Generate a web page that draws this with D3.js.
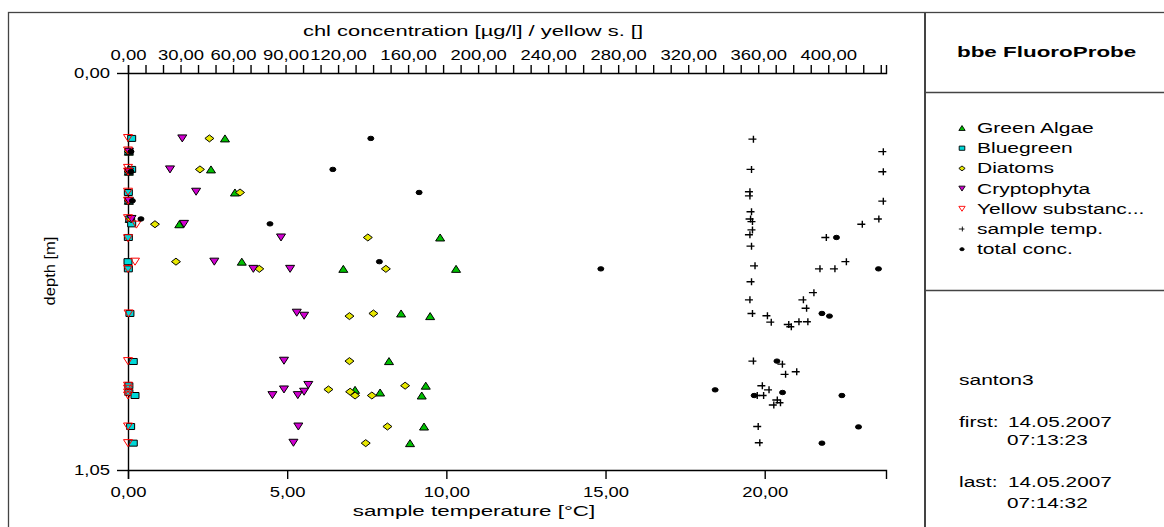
<!DOCTYPE html>
<html>
<head>
<meta charset="utf-8">
<script src="https://cdn.jsdelivr.net/npm/d3@7"></script>
<style>
	body { margin: 0; background: #fff; }
	svg { display: block; }
	text { font-family: "Liberation Sans", Arial, sans-serif; fill: #000; }
</style>
</head>
<body>
<div id="chart"></div>
<script>

// [depth m, chl µg/l]  (top axis)
var greenAlgae = [[0.173,55.4],[0.208,0.5],[0.255,47.4],[0.261,0.5],[0.316,61.1],[0.338,0.5],[0.386,1.0],[0.400,29.3],
	[0.435,178.3],[0.499,65.0],[0.518,123.0],[0.518,187.4],[0.636,156.0],[0.643,172.6],[0.762,149.1],[0.827,170.1],
	[0.838,129.7],[0.845,144.0],[0.853,167.8],[0.935,169.1],[0.979,161.1]];
var bluegreen = [[0.173,2.1],[0.208,0.5],[0.255,2.1],[0.261,0.5],[0.316,0.2],[0.338,0.5],[0.386,1.0],[0.399,2.1],
	[0.435,0.2],[0.499,0.0],[0.518,0.2],[0.636,1.1],[0.763,3.0],[0.827,0.5],[0.845,0.5],[0.853,4.0],[0.935,1.5],[0.979,3.0]];
var diatoms = [[0.173,46.5],[0.208,0.5],[0.255,41.1],[0.261,0.5],[0.316,64.0],[0.338,0.5],[0.386,1.5],[0.400,15.4],
	[0.435,137.0],[0.499,27.4],[0.518,75.0],[0.518,147.3],[0.636,140.2],[0.643,126.5],[0.762,126.5],[0.827,158.3],
	[0.837,114.5],[0.843,126.9],[0.853,129.7],[0.853,139.3],[0.935,148.2],[0.979,135.8]];
var cryptophyta = [[0.173,31.0],[0.208,0.5],[0.255,24.0],[0.261,0.5],[0.314,38.9],[0.338,0.5],[0.386,2.0],[0.399,32.0],
	[0.435,87.4],[0.499,49.3],[0.518,71.6],[0.518,92.6],[0.634,96.4],[0.642,100.6],[0.761,89.1],[0.825,103.0],
	[0.837,89.1],[0.843,100.6],[0.852,97.0],[0.852,82.5],[0.935,97.3],[0.978,94.5]];
var yellowSubst = [[0.172,0],[0.205,0],[0.251,0],[0.261,0],[0.314,0],[0.338,0],[0.384,0],[0.401,4.8],[0.437,0],
	[0.499,4.0],[0.518,0],[0.636,0.3],[0.762,0],[0.827,0],[0.835,0],[0.845,0],[0.853,0],[0.935,0],[0.979,0]];
var totalConc = [[0.173,138.7],[0.208,1.7],[0.255,117.0],[0.261,1.7],[0.316,166.3],[0.338,2.5],[0.386,7.4],[0.399,81.1],
	[0.435,404.7],[0.499,143.6],[0.518,270.1],[0.518,428.7],[0.636,396.4],[0.643,400.7],[0.762,370.7],[0.838,335.4],
	[0.853,357.7],[0.845,373.9],[0.853,407.8],[0.936,417.3],[0.979,396.4]];

// [depth m, °C]  (bottom axis)
var sampleTemp = [[0.175,19.63],[0.208,23.71],[0.255,19.57],[0.261,23.71],[0.314,19.52],[0.325,19.52],[0.339,23.71],
	[0.367,19.57],[0.386,19.54],[0.393,19.60],[0.386,23.57],[0.400,23.05],[0.415,19.60],[0.428,19.52],[0.435,21.92],
	[0.458,19.57],[0.499,22.55],[0.510,19.68],[0.518,21.72],[0.518,22.19],[0.552,19.57],[0.581,21.53],[0.600,19.52],
	[0.600,21.20],[0.622,21.30],[0.636,19.60],[0.642,20.07],[0.659,20.19],[0.665,20.74],[0.671,20.82],[0.658,21.06],
	[0.658,21.34],[0.762,19.63],[0.770,20.54],[0.797,20.64],[0.790,20.99],[0.827,19.91],[0.838,20.12],[0.853,19.75],
	[0.853,19.95],[0.878,20.27],[0.865,20.38],[0.872,20.48],[0.935,19.78],[0.978,19.83]];

var concTicks = d3.range(0, 431, 10);
var concLabels = [0, 30, 60, 90, 120, 160, 200, 240, 280, 320, 360, 400];
var tempTicks = [0, 5, 10, 15, 20];
var depthTicks = [0, 1.05];

var legendLabels = ["Green Algae", "Bluegreen", "Diatoms", "Cryptophyta", "Yellow substanc...", "sample temp.", "total conc."];
var infoName = "santon3";
var firstDate = "14.05.2007", firstTime = "07:13:23";
var lastDate = "14.05.2007", lastTime = "07:14:32";


var W = 1164, H = 527,
	plot = {left: 128, right: 886, top: 73, bottom: 470};

var svg = d3.select("#chart").append("svg")
	.attr("width", W)
	.attr("height", H);

svg.append("rect").attr("width", W).attr("height", H).attr("fill", "#fff");

// the original is a horizontally stretched bitmap; widen text the same way
function stretch(sel, k) {
	sel.each(function() {
		var w = this.getComputedTextLength();
		if(w > 0) {
			d3.select(this).attr("textLength", w * k).attr("lengthAdjust", "spacingAndGlyphs");
		}
	});
}

function fmt(d) { return d3.format(".2f")(d).replace(".", ","); }

// frame and right panel (right and bottom edges run off the picture)
var frame = svg.append("g").attr("fill", "none").attr("stroke", "#444").attr("stroke-width", 1.3);
frame.append("rect").attr("x", 8.5).attr("y", 12.5).attr("width", 1170).attr("height", 530);
frame.append("line").attr("x1", 925).attr("x2", 925).attr("y1", 12).attr("y2", H).attr("stroke-width", 2);
frame.append("line").attr("x1", 925).attr("x2", W).attr("y1", 92.5).attr("y2", 92.5);
frame.append("line").attr("x1", 925).attr("x2", W).attr("y1", 290.5).attr("y2", 290.5);


var xConc = d3.scaleLinear().domain([0, 433]).range([plot.left, plot.right]);
var xTemp = d3.scaleLinear().domain([0, 23.81]).range([plot.left, plot.right]);
var yDepth = d3.scaleLinear().domain([0, 1.05]).range([plot.top, plot.bottom]);

function styleAxis(g, size, k) {
	g.attr("font-family", null).attr("font-size", null);
	g.selectAll("path, line").attr("stroke", "#000").attr("stroke-width", 1.4);
	g.selectAll("text").style("font-size", size + "px").call(stretch, k);
}

svg.append("g")
	.attr("transform", "translate(0," + plot.top + ")")
	.call(d3.axisTop(xConc).tickValues(concTicks).tickSize(8).tickSizeOuter(8).tickPadding(5)
		.tickFormat(function(d) { return concLabels.indexOf(d) >= 0 ? fmt(d) : ""; }))
	.call(styleAxis, 15, 1.23);

svg.append("g")
	.attr("transform", "translate(0," + plot.bottom + ")")
	.call(d3.axisBottom(xTemp).tickValues(tempTicks).tickSize(9).tickSizeOuter(9).tickPadding(7).tickFormat(fmt))
	.call(styleAxis, 15, 1.23);

svg.append("g")
	.attr("transform", "translate(" + plot.left + ",0)")
	.call(d3.axisLeft(yDepth).tickValues(depthTicks).tickSize(11).tickSizeOuter(0).tickPadding(7).tickFormat(fmt))
	.call(styleAxis, 15, 1.23);

// axis titles
svg.append("text").attr("x", 473).attr("y", 36).attr("text-anchor", "middle")
	.style("font-size", "15px").text("chl concentration [µg/l] / yellow s. []").call(stretch, 1.46);
svg.append("text").attr("x", 474).attr("y", 516).attr("text-anchor", "middle")
	.style("font-size", "15px").text("sample temperature [°C]").call(stretch, 1.49);
svg.append("text").attr("transform", "translate(55,271) rotate(-90)").attr("text-anchor", "middle")
	.style("font-size", "15px").text("depth [m]").call(stretch, 1.1);


// markers
var shapes = {
	up: "M-4.5,3.5L0,-3.5L4.5,3.5Z",
	down: "M-4.5,-3.5L4.5,-3.5L0,3.5Z",
	square: "M-4,-3H4V3H-4Z",
	diamond: "M-4.5,0L0,-3.5L4.5,0L0,3.5Z",
	cross: "M-4.5,0H3.5M0.5,-3.5V3.5",
	dot: "M-3,0A3,2.2 0 1,0 3,0A3,2.2 0 1,0 -3,0Z"
};

var series = [
	{data: greenAlgae, x: xConc, shape: "up", fill: "#00c000", stroke: "#000"},
	{data: bluegreen, x: xConc, shape: "square", fill: "#00d8d8", stroke: "#000"},
	{data: diatoms, x: xConc, shape: "diamond", fill: "#e8e800", stroke: "#000"},
	{data: cryptophyta, x: xConc, shape: "down", fill: "#d000d0", stroke: "#000"},
	{data: yellowSubst, x: xConc, shape: "down", fill: "none", stroke: "#ff0000"},
	{data: sampleTemp, x: xTemp, shape: "cross", fill: "none", stroke: "#000"},
	{data: totalConc, x: xConc, shape: "dot", fill: "#000", stroke: "#000"}
];

series.forEach(function(s) {
	svg.append("g")
		.selectAll("path")
		.data(s.data)
		.enter().append("path")
			.attr("transform", function(d) { return "translate(" + s.x(d[1]) + "," + yDepth(d[0]) + ")"; })
			.attr("d", shapes[s.shape])
			.attr("fill", s.fill)
			.attr("stroke", s.stroke)
			.attr("stroke-width", s.shape == "cross" ? 1.4 : 1);
});


// right panel
svg.append("text").attr("x", 957).attr("y", 57)
	.style("font-size", "14px").style("font-weight", "bold").text("bbe FluoroProbe").call(stretch, 1.6);

var legend = svg.append("g")
	.selectAll("g")
	.data(legendLabels)
	.enter().append("g")
		.attr("transform", function(d, i) { return "translate(962," + (128 + i * 20.2) + ")"; });

legend.append("path")
	.attr("d", function(d, i) { return shapes[series[i].shape]; })
	.attr("transform", "scale(0.7)")
	.attr("fill", function(d, i) { return series[i].fill; })
	.attr("stroke", function(d, i) { return series[i].stroke; })
	.attr("stroke-width", 1.3);

legend.append("text")
	.attr("x", 15).attr("y", 5)
	.style("font-size", "14px")
	.text(function(d) { return d; })
	.call(stretch, 1.5);

var info = svg.append("g").style("font-size", "14px");
info.append("text").attr("x", 959).attr("y", 385).text(infoName).call(stretch, 1.5);
info.append("text").attr("x", 959).attr("y", 427).text("first:").call(stretch, 1.5);
info.append("text").attr("x", 1008).attr("y", 427).text(firstDate).call(stretch, 1.48);
info.append("text").attr("x", 1007).attr("y", 445).text(firstTime).call(stretch, 1.48);
info.append("text").attr("x", 959).attr("y", 487).text("last:").call(stretch, 1.5);
info.append("text").attr("x", 1008).attr("y", 487).text(lastDate).call(stretch, 1.48);
info.append("text").attr("x", 1007).attr("y", 508).text(lastTime).call(stretch, 1.48);

</script>
</body>
</html>
